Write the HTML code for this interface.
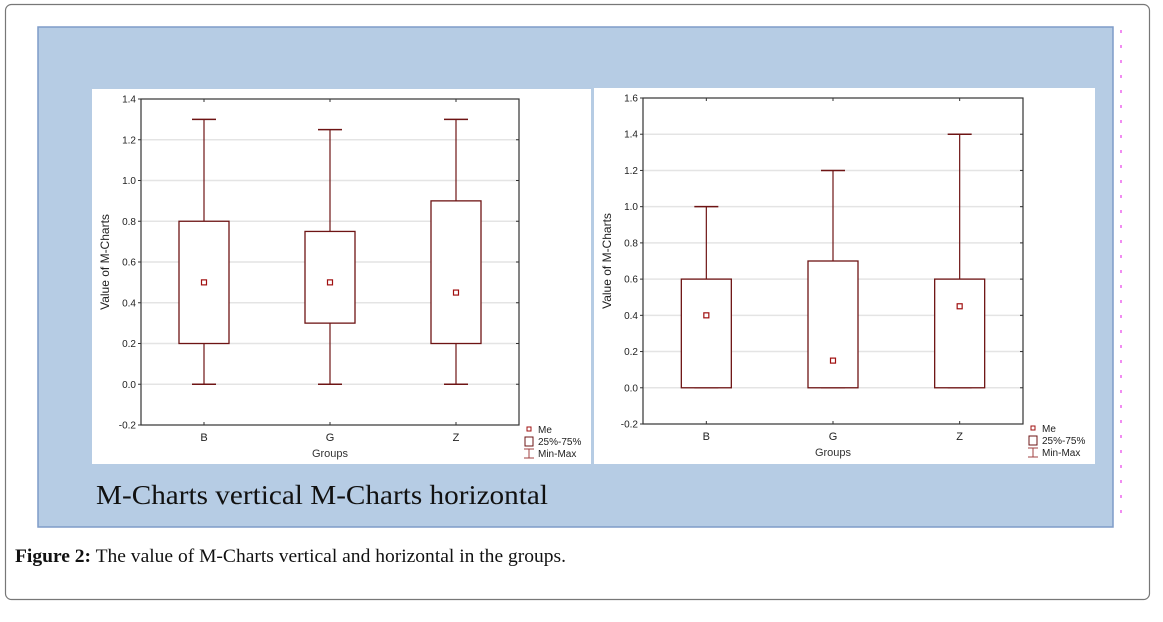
<!DOCTYPE html>
<html><head><meta charset="utf-8"><style>
body{margin:0;background:#fff;width:1163px;height:622px;overflow:hidden}
svg{display:block}
</style></head><body>
<svg id="s" width="1163" height="622" xmlns="http://www.w3.org/2000/svg" font-family="Liberation Sans, sans-serif">
<rect x="5.5" y="4.5" width="1144" height="595" rx="6" fill="#fff" stroke="#777" stroke-width="1.2"/>
<rect x="38" y="27" width="1075" height="500" fill="#b6cce4" stroke="#7f9cc8" stroke-width="1.5"/>
<line x1="1121" y1="30" x2="1121" y2="525" stroke="#ee66ee" stroke-width="1.5" stroke-dasharray="3,12"/>
<rect x="92" y="89" width="499" height="375" fill="#fff"/>
<rect x="594" y="88" width="501" height="376" fill="#fff"/>
<text x="96" y="504" font-family="Liberation Serif, serif" font-size="27" textLength="452" lengthAdjust="spacingAndGlyphs" fill="#111">M-Charts vertical M-Charts horizontal</text>
<text x="15" y="562" font-family="Liberation Serif, serif" font-size="19" textLength="551" lengthAdjust="spacingAndGlyphs" fill="#111"><tspan font-weight="bold">Figure 2:</tspan> The value of M-Charts vertical and horizontal in the groups.</text>
<g id="c1"></g>
<g id="c2"></g>
</svg>
<script>
const categories = ["B","G","Z"];
const leftMin = [0,0,0];
const leftQ1 = [0.2,0.3,0.2];
const leftMed = [0.5,0.5,0.45];
const leftQ3 = [0.8,0.75,0.9];
const leftMax = [1.3,1.25,1.3];
const leftTicks = [-0.2,0,0.2,0.4,0.6,0.8,1.0,1.2,1.4];
const rightMin = [0,0,0];
const rightQ1 = [0,0,0];
const rightMed = [0.4,0.15,0.45];
const rightQ3 = [0.6,0.7,0.6];
const rightMax = [1.0,1.2,1.4];
const rightTicks = [-0.2,0,0.2,0.4,0.6,0.8,1.0,1.2,1.4,1.6];

const NS="http://www.w3.org/2000/svg";
function mk(p,tag,at){const e=document.createElementNS(NS,tag);for(const k in at)e.setAttribute(k,at[k]);p.appendChild(e);return e;}

function draw(g,o,mins,q1,med,q3,maxs,ticks){
  const yMin=ticks[0], yMax=ticks[ticks.length-1];
  const y=v=>o.b-(v-yMin)/(yMax-yMin)*(o.b-o.t);
  const step=(o.r-o.l)/categories.length;
  const x=i=>o.l+step*(i+0.5);
  const dark="#6e1414";
  ticks.forEach(t=>{
    if(t!==yMin && t!==yMax){
      const gl=mk(g,"line",{x1:o.l,x2:o.r,y1:y(t),y2:y(t),stroke:"#e4e4e4","stroke-width":1.5});
      
      
    }
    const tk=mk(g,"line",{x1:o.l-3,x2:o.l,y1:y(t),y2:y(t),stroke:"#333"});
    
    
    const tr=mk(g,"line",{x1:o.r-3,x2:o.r,y1:y(t),y2:y(t),stroke:"#333"});
    
    
    const lb=mk(g,"text",{x:o.l-5,y:y(t)+3.5,"font-size":10,"text-anchor":"end",fill:"#222"});
    lb.textContent=t.toFixed(1);
    
    
  });
  const fr=mk(g,"rect",{x:o.l,y:o.t,width:o.r-o.l,height:o.b-o.t,fill:"none",stroke:"#333","stroke-width":1.2});
  
  
  categories.forEach((c,i)=>{
    const cx=x(i), hw=25, cw=12;
    const w1=mk(g,"line",{x1:cx,x2:cx,y1:y(maxs[i]),y2:y(q3[i]),stroke:dark,"stroke-width":1.2});
    
    
    const w2=mk(g,"line",{x1:cx,x2:cx,y1:y(q1[i]),y2:y(mins[i]),stroke:dark,"stroke-width":1.2});
    
    
    const c1=mk(g,"line",{x1:cx-cw,x2:cx+cw,y1:y(maxs[i]),y2:y(maxs[i]),stroke:dark,"stroke-width":1.5});
    
    
    const c2=mk(g,"line",{x1:cx-cw,x2:cx+cw,y1:y(mins[i]),y2:y(mins[i]),stroke:dark,"stroke-width":1.5});
    
    
    const bx=mk(g,"rect",{x:cx-hw,y:y(q3[i]),width:2*hw,height:y(q1[i])-y(q3[i]),fill:"#fff",stroke:dark,"stroke-width":1.3});
    
    
    const m=mk(g,"rect",{x:cx-2.5,y:y(med[i])-2.5,width:5,height:5,fill:"#fff",stroke:"#a01010","stroke-width":1.2});
    
    
    const xt=mk(g,"line",{x1:cx,x2:cx,y1:o.b,y2:o.b-3,stroke:"#333"});
    
    
    const xtt=mk(g,"line",{x1:cx,x2:cx,y1:o.t,y2:o.t+3,stroke:"#333"});
    
    
    const xl=mk(g,"text",{x:cx,y:o.b+16,"font-size":11,"text-anchor":"middle",fill:"#222"});
    xl.textContent=c;
    
    
  });
  const xtitle=mk(g,"text",{x:(o.l+o.r)/2,y:o.b+32,"font-size":11,"text-anchor":"middle",fill:"#333"});
  xtitle.textContent="Groups";
  
  
  const yc=(o.t+o.b)/2, yx=o.l-32;
  const yt=mk(g,"text",{x:yx,y:yc,"font-size":12,"text-anchor":"middle",fill:"#222",transform:`rotate(-90 ${yx} ${yc})`});
  yt.textContent="Value of M-Charts";
  
  
  const lx=o.r+8;
  const l1=mk(g,"rect",{x:lx,y:o.b+2,width:4,height:4,fill:"#fff",stroke:"#a01010"});
  
  
  const t1=mk(g,"text",{x:lx+11,y:o.b+8,"font-size":10,fill:"#222"});t1.textContent="Me";
  
  
  const l2=mk(g,"rect",{x:lx-2,y:o.b+12,width:8,height:9,fill:"#fff",stroke:"#6e1414"});
  
  
  const t2=mk(g,"text",{x:lx+11,y:o.b+20,"font-size":10,fill:"#222"});t2.textContent="25%-75%";
  
  
  const l3=mk(g,"path",{d:`M${lx-3} ${o.b+24}h10M${lx+2} ${o.b+24}v9M${lx-3} ${o.b+33}h10`,stroke:"#a04040",fill:"none"});
  
  
  const t3=mk(g,"text",{x:lx+11,y:o.b+32,"font-size":10,fill:"#222"});t3.textContent="Min-Max";
  
  
}
draw(document.getElementById("c1"),{l:141,r:519,t:99,b:425},leftMin,leftQ1,leftMed,leftQ3,leftMax,leftTicks);
draw(document.getElementById("c2"),{l:643,r:1023,t:98,b:424},rightMin,rightQ1,rightMed,rightQ3,rightMax,rightTicks);
</script>
</body></html>
